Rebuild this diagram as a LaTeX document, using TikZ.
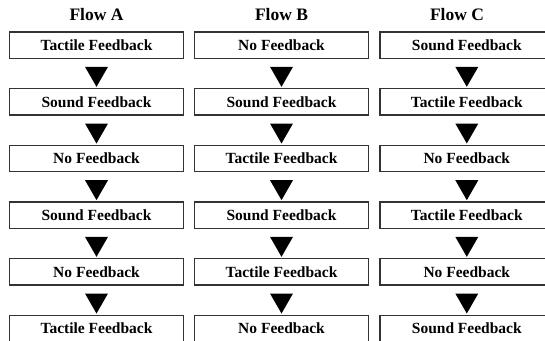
\documentclass[tikz,border=0pt]{standalone}
\usepackage{fontspec}
\setmainfont{Liberation Serif}
\usetikzlibrary{shapes.geometric}

\tikzset{
  fbox/.style={draw=black!80, line width=1.2pt, minimum width=173.6pt, minimum height=26.3pt,
    inner sep=0pt, font=\bfseries\fontsize{15.5}{18}\selectfont},
  flowtitle/.style={font=\bfseries\fontsize{17.5}{20}\selectfont},
  downtri/.style={isosceles triangle, isosceles triangle stretches, shape border rotate=270,
    fill=black, inner sep=0pt, minimum width=23pt, minimum height=20pt}
}

\begin{document}
\begin{tikzpicture}[x=1pt,y=1pt]
\useasboundingbox (0,0) rectangle (545,340);

% column titles
\node[flowtitle] (titleA) at (96.5,325.5) {Flow A};
\node[flowtitle] (titleB) at (281.5,325.5) {Flow B};
\node[flowtitle] (titleC) at (457,325.5) {Flow C};

% one column of feedback steps per flow
\foreach \col/\x/\steps in {A/96.5/{Tactile,Sound,No,Sound,No,Tactile},
                            B/281.5/{No,Sound,Tactile,Sound,Tactile,No},
                            C/466.8/{Sound,Tactile,No,Tactile,No,Sound}} {
  \foreach \kind [count=\i] in \steps
    \node[fbox] (\col\i) at (\x,{294.85-56.67*(\i-1)}) {\kind{} Feedback};
  % arrows between the steps
  \foreach \i/\j in {1/2,2/3,3/4,4/5,5/6}
    \path (\col\i) -- node[downtri] (t\col\i) {} (\col\j);
}
\end{tikzpicture}
\end{document}
